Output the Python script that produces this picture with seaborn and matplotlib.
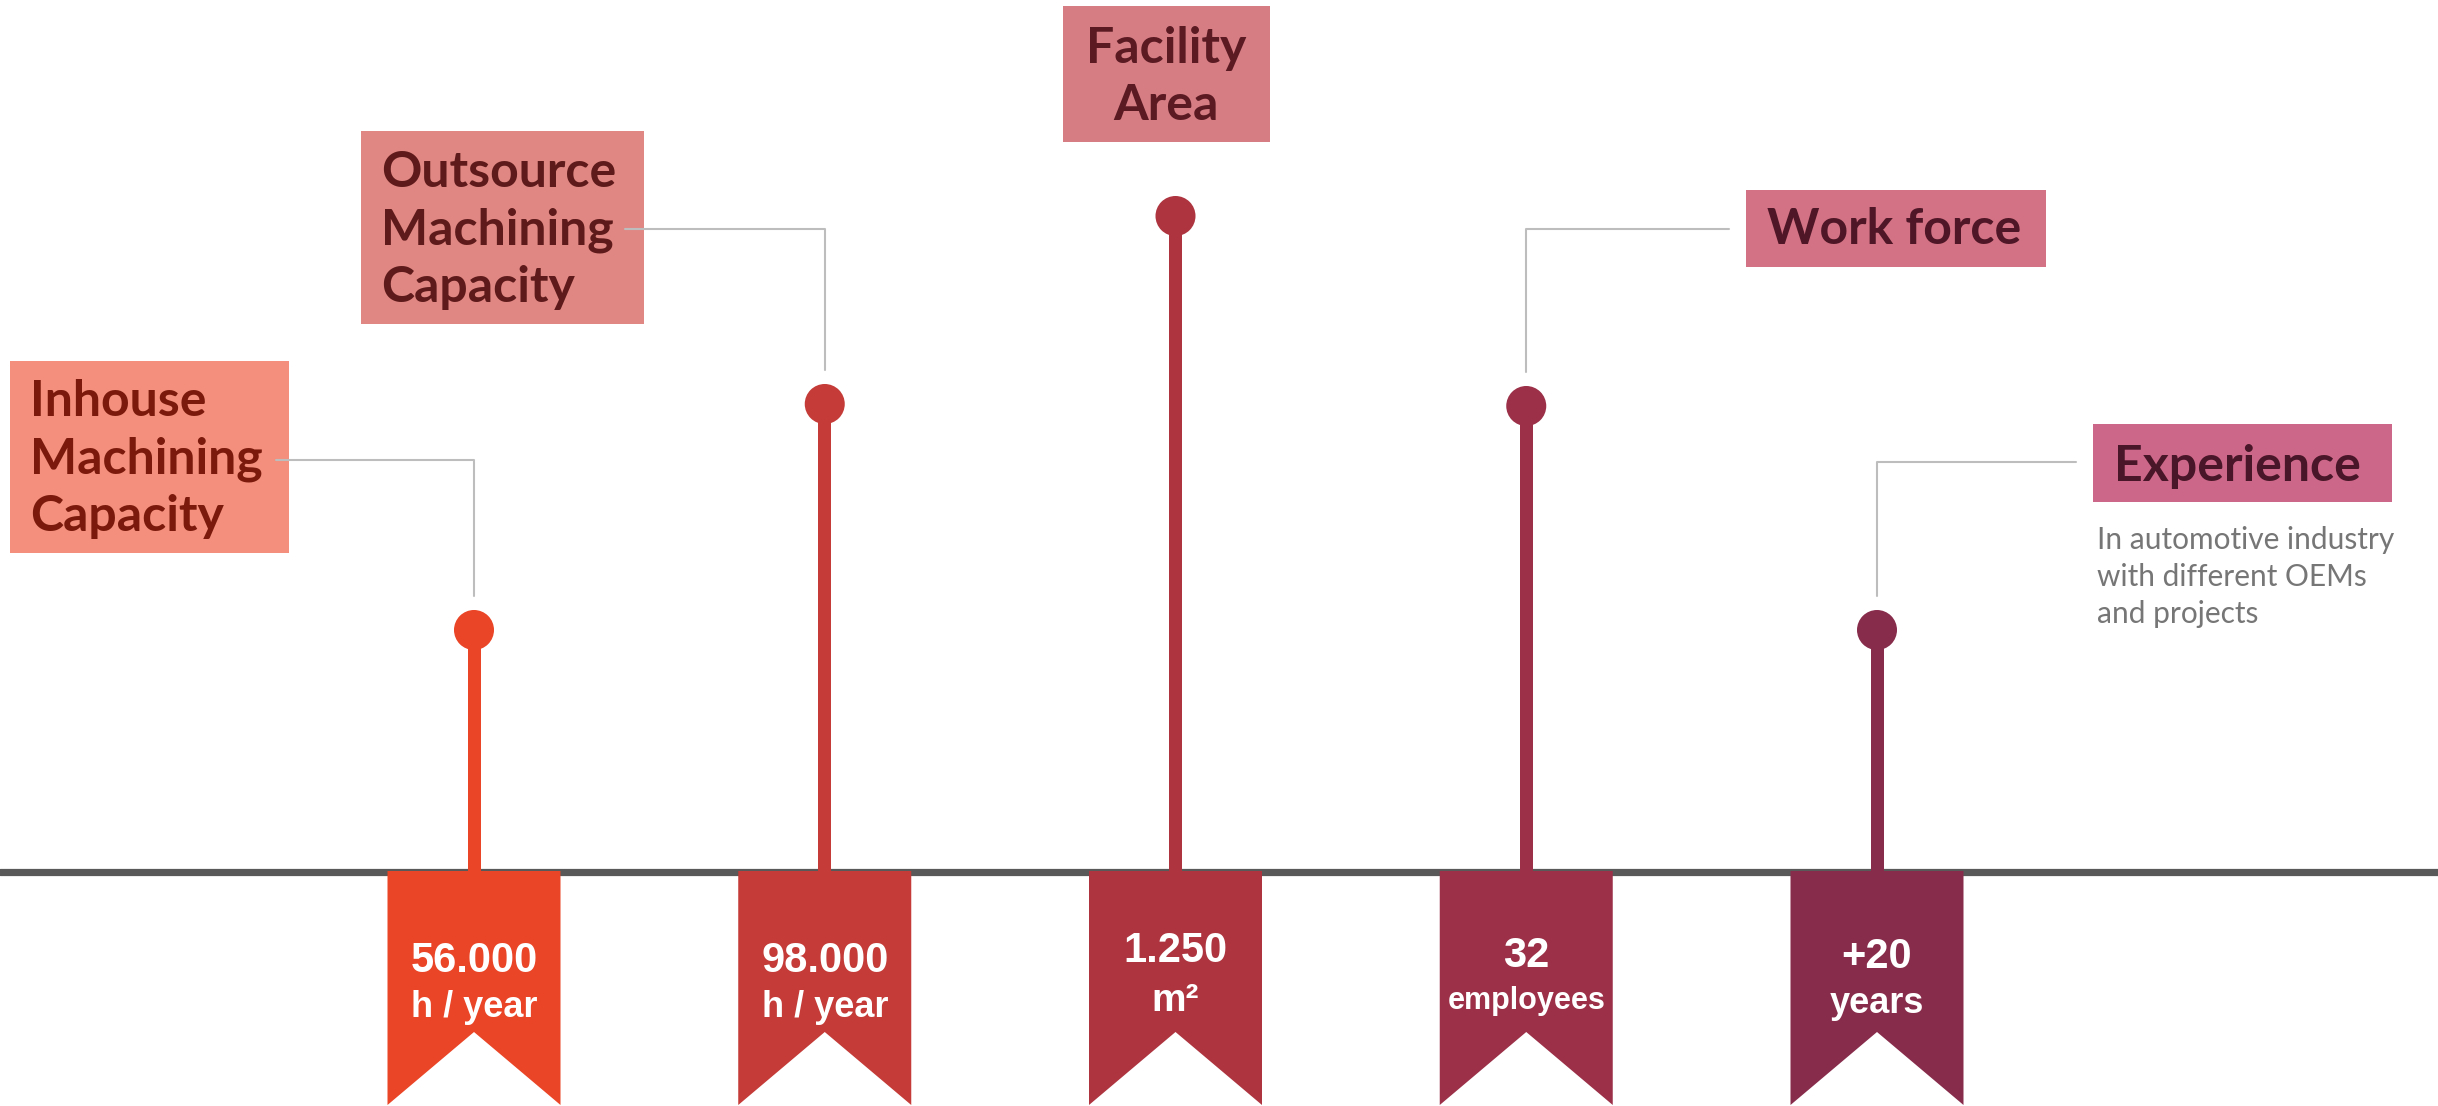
import matplotlib
matplotlib.use("Agg")
import matplotlib.pyplot as plt
from matplotlib.patches import Polygon, Rectangle
import seaborn as sns


categories = ["Inhouse Machining Capacity", "Outsource Machining Capacity",
              "Facility Area", "Work force", "Experience"]
heights = [242, 468, 656, 466, 242]
values = ["56.000", "98.000", "1.250", "32", "+20"]
units = ["h / year", "h / year", "m²", "employees", "years"]
colors = ["#EA4526", "#C43B37", "#AE3540", "#9B3048", "#882C4C"]

box_titles = ["Inhouse\nMachining\nCapacity", "Outsource\nMachining\nCapacity",
              "Facility\nArea", "Work force", "Experience"]
box_colors = ["#F38F7C", "#E08783", "#D67D84", "#D27284", "#CD6789"]
text_colors = ["#7B1A0C", "#5E1A1A", "#5B1A22", "#4E1626", "#481628"]
note = ["In automotive industry", "with different OEMs", "and projects"]

W, H = 2438, 1106
BASE = 872          # baseline, px from top
STEP = 350.75       # px between lollipops
X0 = 474            # px of first lollipop

sns.set_theme(style="white")
plt.rcParams["font.family"] = ["Liberation Sans", "DejaVu Sans"]

fig = plt.figure(figsize=(W / 100, H / 100), dpi=100)
ax = fig.add_axes([0, 0, 1, 1])

# stems
sns.barplot(x=categories, y=heights, hue=categories, palette=colors,
            saturation=1, width=13 / STEP, linewidth=0, legend=False,
            ax=ax, zorder=2)
# heads
sns.scatterplot(x=list(range(len(categories))), y=heights, hue=categories,
                palette=colors, s=830, linewidth=0, legend=False, ax=ax, zorder=4)

ax.set_xlim(-X0 / STEP, (W - X0) / STEP)
ax.set_ylim(-(H - BASE), BASE)
ax.axis("off")

ax.axhline(0, color="#595959", lw=5.2, zorder=1)

# ribbons with values
hw = 86.5 / STEP
num_base = [972, 972, 962, 967, 968]
unit_base = [1017, 1017, 1011, 1009, 1013]
unit_size = [26, 26, 28, 22, 26]
for i, c in enumerate(colors):
    pts = [(i - hw, 1), (i + hw, 1), (i + hw, -(1105 - BASE)),
           (i, -(1032 - BASE)), (i - hw, -(1105 - BASE))]
    ax.add_patch(Polygon(pts, closed=True, color=c, lw=0, zorder=3))
    ax.text(i, BASE - num_base[i], values[i], color="white", fontsize=30,
            fontweight="bold", ha="center", va="baseline", zorder=5)
    ax.text(i, BASE - unit_base[i], units[i], color="white", fontsize=unit_size[i],
            fontweight="bold", ha="center", va="baseline", zorder=5)

# overlay in pixel coordinates for the label boxes
ov = fig.add_axes([0, 0, 1, 1])
ov.set_xlim(0, W)
ov.set_ylim(H, 0)
ov.axis("off")


def dot_px(i):
    d = ax.transData.transform((i, heights[i]))
    return ov.transData.inverted().transform(d)


# box rect (x, y, w, h), text anchor x, first baseline, alignment
boxes = [
    ((10, 361, 279, 192), 30, 416, "left"),
    ((361, 131, 283, 193), 381, 187, "left"),
    ((1063, 6, 207, 136), 1166, 63, "center"),
    ((1746, 190, 300, 77), 1767, 244, "left"),
    ((2093, 424, 299, 78), 2114, 481, "left"),
]
for i, (rect, tx, ty, ha) in enumerate(boxes):
    x, y, w, h = rect
    ov.add_patch(Rectangle((x, y), w, h, color=box_colors[i], lw=0, zorder=1))
    for k, line in enumerate(box_titles[i].split("\n")):
        ov.text(tx, ty + k * 57.5, line, color=text_colors[i], fontsize=36,
                fontweight="bold", family=["Lato", "DejaVu Sans"],
                ha=ha, va="baseline", zorder=3)

# connectors: (box edge x, y) -> above the dot
links = {0: (276, 460), 1: (625, 229), 3: (1729, 229), 4: (2076, 462)}
for i, (ex, ey) in links.items():
    dx, dy = dot_px(i)
    ov.plot([ex, dx, dx], [ey, ey, dy - 34], color="#BDBDBD", lw=1.5, zorder=2)

for k, line in enumerate(note):
    ov.text(2097, 549 + k * 37, line, color="#767676", fontsize=21.5,
            fontweight="normal", family=["Lato", "DejaVu Sans"],
            ha="left", va="baseline")

fig.savefig("out.png", dpi=100)
